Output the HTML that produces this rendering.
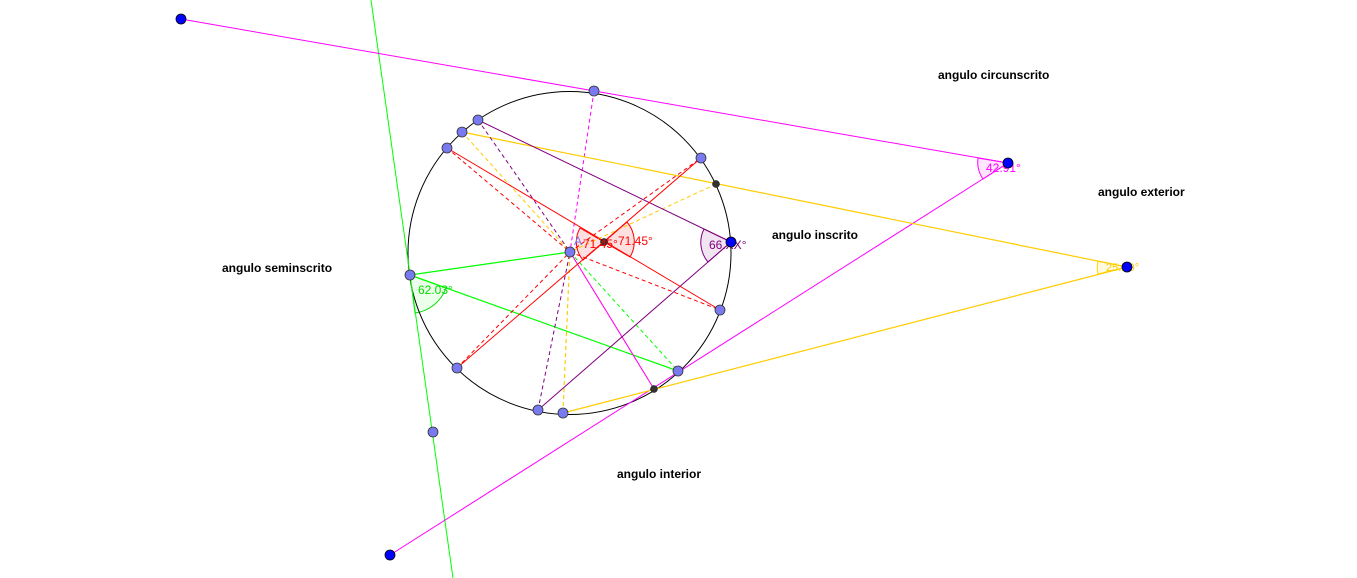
<!DOCTYPE html>
<html><head><meta charset="utf-8"><style>
html,body{margin:0;padding:0;background:#fff;}
svg{display:block}
text{font-family:"Liberation Sans",sans-serif}
.lbl{font-size:12px;font-weight:bold;fill:#000}
</style></head><body>
<svg width="1357" height="578" viewBox="0 0 1357 578" xmlns="http://www.w3.org/2000/svg">
<path d="M604,242 L630,257 A30,30 0 0 0 627,222 Z" fill="#ff0000" fill-opacity="0.12" stroke="#ff0000" stroke-width="1"/>
<path d="M604,242 L580,228 A28,28 0 0 0 583,260 Z" fill="#ff0000" fill-opacity="0.12" stroke="#ff0000" stroke-width="1"/>
<path d="M731,242 L704,229 A30,30 0 0 0 708,262 Z" fill="#800080" fill-opacity="0.1" stroke="#800080" stroke-width="1"/>
<path d="M1008,163 L978,158 A30,30 0 0 0 983,179 Z" fill="#ff00ff" fill-opacity="0.1" stroke="#ff00ff" stroke-width="1"/>
<path d="M1127,267 L1098,261 A30,30 0 0 0 1098,274 Z" fill="#ffd700" fill-opacity="0.12" stroke="#ffd700" stroke-width="1"/>
<path d="M410,275 L415,313 A38,38 0 0 0 446,288 Z" fill="#00ff00" fill-opacity="0.08" stroke="#00dd00" stroke-width="1"/>
<circle cx="569.5" cy="253" r="161.5" fill="none" stroke="#000" stroke-width="1"/>
<line x1="371" y1="0" x2="453" y2="578" stroke="#00ff00" stroke-width="1"/>
<line x1="410" y1="275" x2="570" y2="252" stroke="#00ff00" stroke-width="1.2"/>
<line x1="410" y1="275" x2="678" y2="371" stroke="#00ff00" stroke-width="1.2"/>
<line x1="570" y1="252" x2="678" y2="371" stroke="#00ff00" stroke-width="1" stroke-dasharray="4,3"/>
<line x1="181" y1="19" x2="1008" y2="163" stroke="#ff00ff" stroke-width="1"/>
<line x1="390" y1="555" x2="1008" y2="163" stroke="#ff00ff" stroke-width="1"/>
<line x1="594" y1="91" x2="570" y2="252" stroke="#ff00ff" stroke-width="1" stroke-dasharray="4,3"/>
<line x1="462" y1="132" x2="1127" y2="267" stroke="#ffcc00" stroke-width="1.2"/>
<line x1="563" y1="413" x2="1127" y2="267" stroke="#ffcc00" stroke-width="1.2"/>
<line x1="462" y1="132" x2="570" y2="252" stroke="#ffcc00" stroke-width="1" stroke-dasharray="4,3"/>
<line x1="563" y1="413" x2="570" y2="252" stroke="#ffcc00" stroke-width="1.2" stroke-dasharray="4,3"/>
<line x1="716" y1="184" x2="570" y2="252" stroke="#ffcc00" stroke-width="1" stroke-dasharray="4,3"/>
<line x1="570" y1="252" x2="654" y2="389" stroke="#ffcc00" stroke-width="1" stroke-dasharray="6,2"/>
<line x1="570" y1="252" x2="654" y2="389" stroke="#ff00ff" stroke-width="1"/>
<line x1="478" y1="120" x2="731" y2="242" stroke="#800080" stroke-width="1"/>
<line x1="538" y1="410" x2="731" y2="242" stroke="#800080" stroke-width="1"/>
<line x1="478" y1="120" x2="570" y2="252" stroke="#800080" stroke-width="1" stroke-dasharray="4,3"/>
<line x1="538" y1="410" x2="570" y2="252" stroke="#800080" stroke-width="1" stroke-dasharray="4,3"/>
<line x1="447" y1="148" x2="720" y2="310" stroke="#ff0000" stroke-width="1"/>
<line x1="457" y1="368" x2="701" y2="158" stroke="#ff0000" stroke-width="1"/>
<line x1="447" y1="148" x2="570" y2="252" stroke="#ff0000" stroke-width="1" stroke-dasharray="4,3"/>
<line x1="570" y1="252" x2="720" y2="310" stroke="#ff0000" stroke-width="1" stroke-dasharray="4,3"/>
<line x1="457" y1="368" x2="570" y2="252" stroke="#ff0000" stroke-width="1" stroke-dasharray="4,3"/>
<line x1="570" y1="252" x2="701" y2="158" stroke="#ff0000" stroke-width="1" stroke-dasharray="4,3"/>
<g fill="#7a7af0" stroke="#333" stroke-width="0.8">
<circle cx="594" cy="91" r="5"/><circle cx="478" cy="120" r="5"/><circle cx="462" cy="132" r="5"/>
<circle cx="447" cy="148" r="5"/><circle cx="701" cy="158" r="5"/><circle cx="720" cy="310" r="5"/>
<circle cx="678" cy="371" r="5"/><circle cx="563" cy="413" r="5"/><circle cx="538" cy="410" r="5"/>
<circle cx="457" cy="368" r="5"/><circle cx="410" cy="275" r="5"/><circle cx="570" cy="252" r="5"/>
<circle cx="433" cy="432" r="5"/>
</g>
<g fill="#333" stroke="#000" stroke-width="0.5">
<circle cx="604" cy="242" r="3.5"/><circle cx="716" cy="184" r="3.5"/><circle cx="654" cy="389" r="3.5"/>
</g>
<text x="574" y="245" font-size="12" fill="#7a7af0">A</text>
<text x="583" y="248" font-size="12" fill="#ff0000">71.45°</text>
<text x="618" y="245" font-size="12" fill="#ff0000">71.45°</text>
<text x="709" y="249" font-size="12" fill="#800080">66.XX°</text>
<text x="986" y="172" font-size="12" fill="#ff00ff">42.91°</text>
<text x="1106" y="271" font-size="11" fill="#ffcc00">25.X9°</text>
<text x="418" y="294" font-size="12" fill="#00dd00">62.03°</text>
<g fill="#0000ff" stroke="#000" stroke-width="0.8">
<circle cx="181" cy="19" r="5"/><circle cx="1008" cy="163" r="5"/><circle cx="390" cy="555" r="5"/>
<circle cx="1127" cy="267" r="5"/><circle cx="731" cy="242" r="5"/>
</g>
<text class="lbl" x="938" y="79">angulo circunscrito</text>
<text class="lbl" x="1098" y="196">angulo exterior</text>
<text class="lbl" x="772" y="239">angulo inscrito</text>
<text class="lbl" x="222" y="272">angulo seminscrito</text>
<text class="lbl" x="617" y="478">angulo interior</text>
</svg>
</body></html>
